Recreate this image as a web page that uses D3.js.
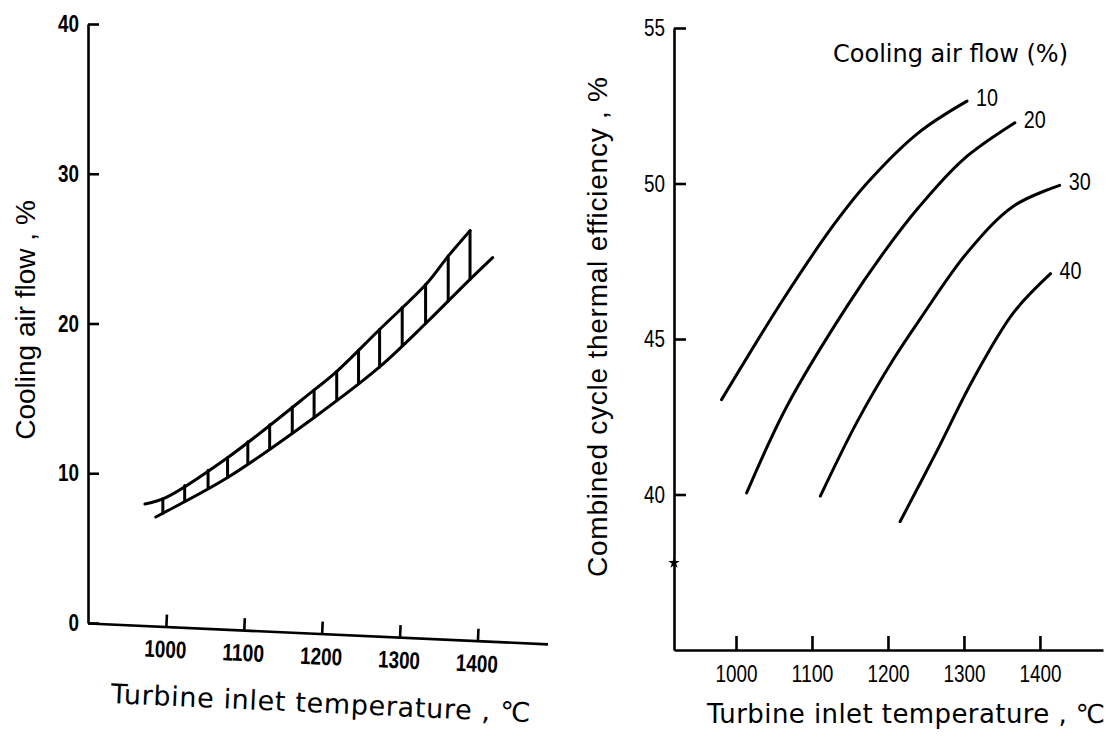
<!DOCTYPE html>
<html>
<head>
<meta charset="utf-8">
<script src="https://cdn.jsdelivr.net/npm/d3@7"></script>
<style>
  body { margin: 0; background: #fff; }
  svg { display: block; background: #fff; }
  .axis .domain, .axis .tick line { stroke: #000; stroke-width: 2.6; }
  .curve { fill: none; stroke: #000; stroke-width: 3; stroke-linecap: round; stroke-linejoin: round; }
</style>
</head>
<body>
<svg id="chart" width="1117" height="738"></svg>
<script>
// left panel: required cooling air flow band (upper / lower edge)
const bandUpperTemp = [973, 999, 1078, 1191, 1217, 1274, 1335, 1362, 1390];
const bandUpperFlow = [7.95, 8.35, 11.0, 15.6, 16.7, 19.6, 22.7, 24.5, 26.2];
const bandLowerTemp = [987, 999, 1078, 1191, 1274, 1335, 1387, 1419];
const bandLowerFlow = [7.08, 7.41, 9.68, 13.76, 17.1, 20.1, 22.8, 24.4];
const hatchTemp = [996, 1024, 1054, 1079, 1105, 1133, 1162, 1190, 1219, 1247, 1274, 1303, 1333, 1362, 1390];
const flowTicks = [0, 10, 20, 30, 40];
const tempTicks = [1000, 1100, 1200, 1300, 1400];

// right panel: combined cycle efficiency for each cooling air flow
const airFlows = [10, 20, 30, 40];
const effTemp = [
    [981, 1062, 1128, 1172, 1240, 1304],
    [1014, 1067, 1146, 1198, 1240, 1299, 1367],
    [1111, 1159, 1207, 1242, 1304, 1365, 1426],
    [1216, 1264, 1312, 1365, 1414]
];
const effValue = [
    [43.05, 46.27, 48.65, 50.0, 51.63, 52.65],
    [40.05, 42.84, 46.05, 47.9, 49.22, 50.77, 51.95],
    [39.95, 42.32, 44.34, 45.63, 47.77, 49.27, 49.94],
    [39.13, 41.38, 43.70, 45.84, 47.10]
];
const effTicks = [40, 45, 50, 55];
const markerEff = 37.8;

const numFont = "'Liberation Sans', Arial, sans-serif";
const digitW = 10.5;   // the scanned digits are tall and narrow
const svg = d3.select("#chart");

function styleNumbers(g, weight) {
    g.selectAll("text")
        .attr("font-family", numFont).attr("font-size", 24)
        .attr("font-weight", weight).attr("fill", "#000")
        .attr("textLength", d => String(d).length * digitW)
        .attr("lengthAdjust", "spacingAndGlyphs");
}

/* ---------- left panel ---------- */
let xL = d3.scaleLinear().domain([900, 1490]).range([88, 548]);
let yL = d3.scaleLinear().domain([0, 40]).range([623, 24]);

let yAxisL = svg.append("g")
    .attr("class", "axis")
    .attr("transform", "translate(88,0)")
    .call(d3.axisLeft(yL).tickValues(flowTicks).tickFormat(d3.format("d"))
        .tickSizeInner(-11).tickSizeOuter(0).tickPadding(9));

// the scanned x axis is slightly tilted
let xAxisL = svg.append("g")
    .attr("class", "axis")
    .attr("transform", "translate(88,623) rotate(2.6) translate(-88,0)")
    .call(d3.axisBottom(xL).tickValues(tempTicks).tickFormat(d3.format("d"))
        .tickSizeInner(-12).tickSizeOuter(0).tickPadding(14));

styleNumbers(yAxisL, "bold");
styleNumbers(xAxisL, "bold");

xAxisL.append("text")
    .attr("x", 114).attr("y", 79)
    .attr("font-family", "'DejaVu Sans', sans-serif").attr("font-size", 27)
    .attr("fill", "#000").attr("text-anchor", "start")
    .attr("textLength", 420)
    .text("Turbine inlet temperature , ℃");

svg.append("text")
    .attr("transform", "translate(35,320) rotate(-90)")
    .attr("font-family", "'Liberation Sans', sans-serif").attr("font-size", 28)
    .attr("text-anchor", "middle")
    .text("Cooling air flow , %");

let bandLine = d3.line().x(d => xL(d[0])).y(d => yL(d[1])).curve(d3.curveCatmullRom.alpha(0.5));
let upperPts = d3.zip(bandUpperTemp, bandUpperFlow);
let lowerPts = d3.zip(bandLowerTemp, bandLowerFlow);

svg.append("path").attr("class", "curve").attr("d", bandLine(upperPts));
svg.append("path").attr("class", "curve").attr("d", bandLine(lowerPts));

// hatch between the two edges
let upperAt = d3.scaleLinear().domain(bandUpperTemp).range(bandUpperFlow);
let lowerAt = d3.scaleLinear().domain(bandLowerTemp).range(bandLowerFlow);
svg.append("g").selectAll("line")
    .data(hatchTemp)
    .enter().append("line")
    .attr("class", "curve")
    .attr("x1", d => xL(d)).attr("x2", d => xL(d))
    .attr("y1", d => yL(upperAt(d))).attr("y2", d => yL(lowerAt(d)));

/* ---------- right panel ---------- */
let xR = d3.scaleLinear().domain([918.4, 1483]).range([674, 1103]);
let yR = d3.scaleLinear().domain([35, 55]).range([650, 28]);

let yAxisR = svg.append("g")
    .attr("class", "axis")
    .attr("transform", "translate(674,0)")
    .call(d3.axisLeft(yR).tickValues(effTicks).tickFormat(d3.format("d"))
        .tickSizeInner(-12).tickSizeOuter(0).tickPadding(9));

let xAxisR = svg.append("g")
    .attr("class", "axis")
    .attr("transform", "translate(0,650)")
    .call(d3.axisBottom(xR).tickValues(tempTicks).tickFormat(d3.format("d"))
        .tickSizeInner(-14).tickSizeOuter(0).tickPadding(15));

styleNumbers(yAxisR, "normal");
styleNumbers(xAxisR, "normal");

svg.append("text")
    .attr("x", 707).attr("y", 723)
    .attr("font-family", "'DejaVu Sans', sans-serif").attr("font-size", 26)
    .attr("textLength", 398)
    .text("Turbine inlet temperature , ℃");

svg.append("text")
    .attr("transform", "translate(607,327) rotate(-90)")
    .attr("font-family", "'Liberation Sans', sans-serif").attr("font-size", 28)
    .attr("text-anchor", "middle")
    .attr("textLength", 500)
    .text("Combined cycle thermal efficiency , %");

svg.append("text")
    .attr("x", 833).attr("y", 62)
    .attr("font-family", "'DejaVu Sans', sans-serif").attr("font-size", 24)
    .text("Cooling air flow (%)");

svg.append("path")
    .attr("d", d3.symbol(d3.symbolStar, 40)())
    .attr("transform", "translate(" + xR.range()[0] + "," + yR(markerEff) + ")");

let effLine = d3.line().x(d => xR(d[0])).y(d => yR(d[1])).curve(d3.curveCatmullRom.alpha(0.5));
let series = airFlows.map((f, i) => ({ flow: f, pts: d3.zip(effTemp[i], effValue[i]) }));

svg.append("g").selectAll("path")
    .data(series)
    .enter().append("path")
    .attr("class", "curve")
    .attr("d", d => effLine(d.pts));

svg.append("g").selectAll("text")
    .data(series)
    .enter().append("text")
    .attr("x", d => xR(d.pts[d.pts.length - 1][0]) + 9)
    .attr("y", d => yR(d.pts[d.pts.length - 1][1]) + 5)
    .attr("font-family", numFont).attr("font-size", 24)
    .attr("textLength", d => String(d.flow).length * 11)
    .attr("lengthAdjust", "spacingAndGlyphs")
    .text(d => d.flow);
</script>
</body>
</html>
